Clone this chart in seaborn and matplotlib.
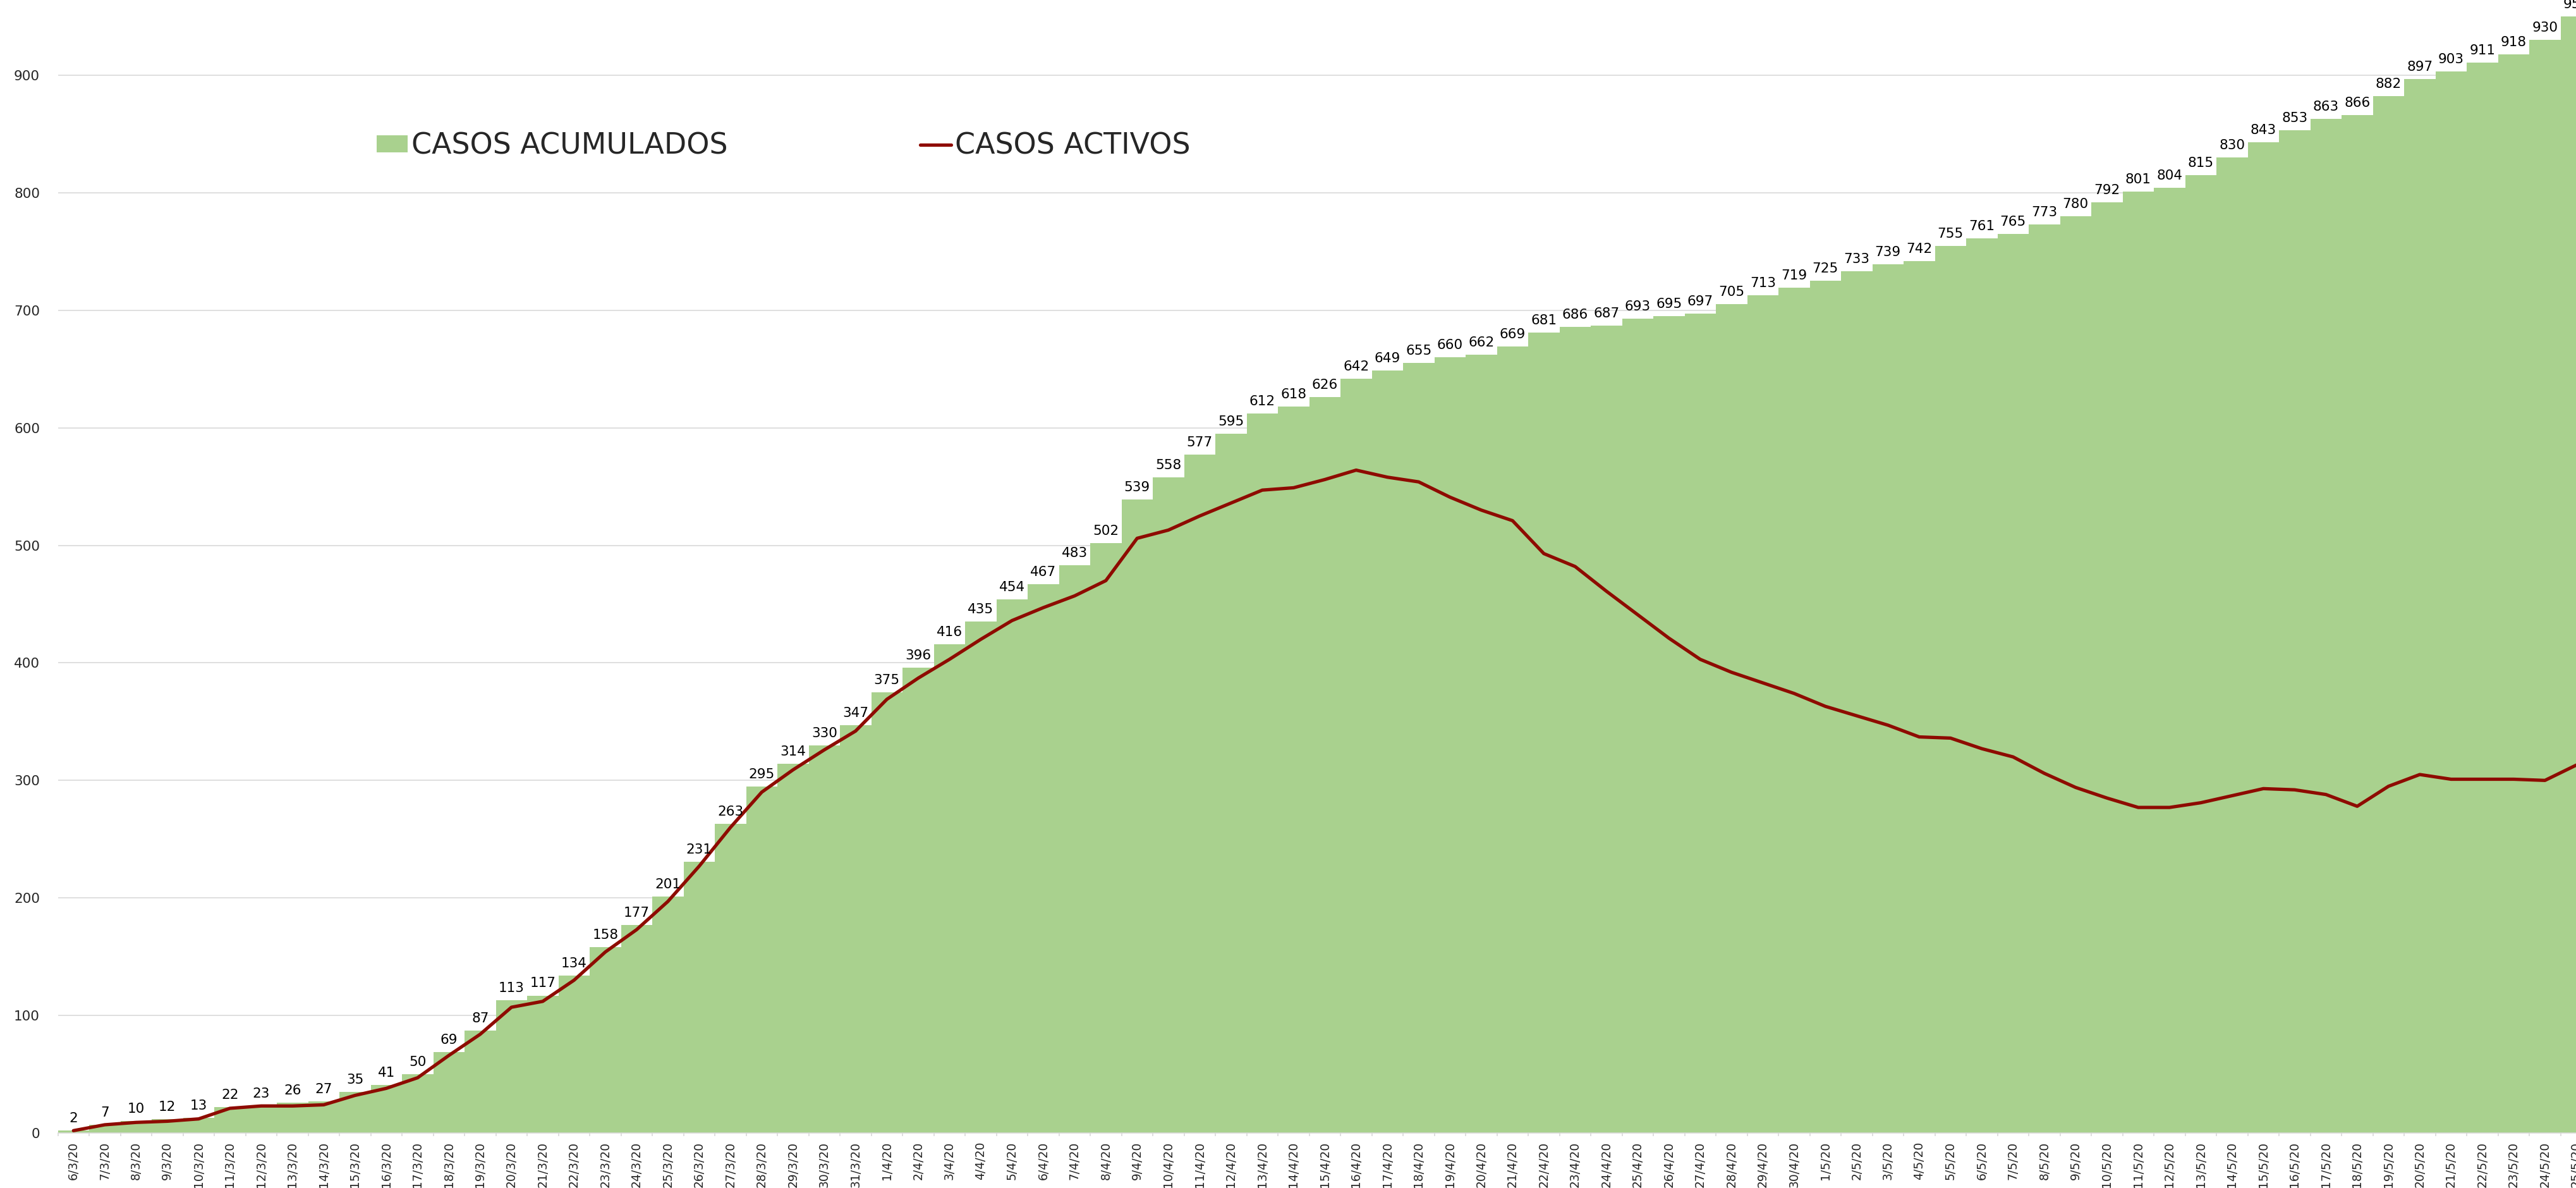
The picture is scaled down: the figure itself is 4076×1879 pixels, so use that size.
import numpy as np
import pandas as pd
import matplotlib
matplotlib.use("Agg")
import matplotlib.pyplot as plt
import seaborn as sns

# ---------------------------------------------------------
# Data
# ---------------------------------------------------------
fechas = ([f"{d}/3/20" for d in range(6, 32)]
          + [f"{d}/4/20" for d in range(1, 31)]
          + [f"{d}/5/20" for d in range(1, 26)])

casos_acumulados = [
    2, 7, 10, 12, 13, 22, 23, 26, 27, 35, 41, 50, 69, 87, 113, 117, 134, 158,
    177, 201, 231, 263, 295, 314, 330, 347,
    375, 396, 416, 435, 454, 467, 483, 502, 539, 558, 577, 595, 612, 618, 626,
    642, 649, 655, 660, 662, 669, 681, 686, 687, 693, 695, 697, 705, 713, 719,
    725, 733, 739, 742, 755, 761, 765, 773, 780, 792, 801, 804, 815, 830, 843,
    853, 863, 866, 882, 897, 903, 911, 918, 930, 950,
]

casos_activos = [
    2, 7, 9, 10, 12, 21, 23, 23, 24, 32, 38, 47, 66, 84, 107, 112, 130, 154,
    173, 197, 227, 260, 290, 309, 326, 342,
    369, 387, 403, 420, 436, 447, 457, 470, 506, 513, 525, 536, 547, 549, 556,
    564, 558, 554, 541, 530, 521, 493, 482, 461, 441, 421, 403, 392, 383, 374,
    363, 355, 347, 337, 336, 327, 320, 306, 294, 285, 277, 277, 281, 287, 293,
    292, 288, 278, 295, 305, 301, 301, 301, 300, 313,
]

y_ticks = list(range(0, 901, 100))

VERDE = "#A9D18E"
ROJO = "#8E0B00"
GRIS = "#D9D9D9"

df = pd.DataFrame({"fecha": fechas,
                   "acumulados": casos_acumulados,
                   "activos": casos_activos})
df["pos"] = np.arange(len(df))

# ---------------------------------------------------------
# Figure
# ---------------------------------------------------------
sns.set_style("white")
plt.rcParams["font.family"] = ["DejaVu Sans"]

fig = plt.figure(figsize=(40.76, 18.79), dpi=100)
# plot area runs past the right/top edges, like the cropped original
ax = fig.add_axes([0.02245, 0.0463, 0.9837, 0.9893])

sns.barplot(data=df, x="fecha", y="acumulados", color=VERDE, saturation=1,
            width=1.0, linewidth=0, ax=ax, label="CASOS ACUMULADOS", zorder=2)
sns.lineplot(data=df, x="pos", y="activos", color=ROJO, linewidth=3.8,
             ax=ax, label="CASOS ACTIVOS", zorder=3)

ax.bar_label(ax.containers[0], padding=6.5, fontsize=15.5, color="black")

ax.set_xlim(-0.5, len(df) - 0.5)
ax.set_ylim(0, 1000)
ax.set_yticks(y_ticks)
ax.yaxis.grid(True, color=GRIS, linewidth=1.2, zorder=0)
ax.set_axisbelow(True)
ax.tick_params(axis="y", length=0, pad=20.5, labelsize=15.5)

ax.set_xticks(df["pos"])
ax.set_xticklabels(df["fecha"], rotation=90, fontsize=13.5)
ax.set_xticks(np.arange(len(df) + 1) - 0.5, minor=True)
ax.tick_params(axis="x", which="major", length=0, pad=10)
ax.tick_params(axis="x", which="minor", length=3.6, width=1.2, color=GRIS,
               bottom=True)
ax.set_xlabel("")
ax.set_ylabel("")

for side in ["left", "top", "right"]:
    ax.spines[side].set_visible(False)
ax.spines["bottom"].set_color(GRIS)
ax.spines["bottom"].set_linewidth(1.2)

handles, labels = ax.get_legend_handles_labels()
orden = [labels.index("CASOS ACUMULADOS"), labels.index("CASOS ACTIVOS")]
ax.legend([handles[i] for i in orden], [labels[i] for i in orden],
          loc="center left", bbox_to_anchor=(0.1462, 0.877),
          bbox_transform=fig.transFigure, ncol=2, frameon=False,
          fontsize=33, handlelength=1.07, handleheight=0.55,
          handletextpad=0.13, columnspacing=6.65, borderpad=0,
          borderaxespad=0)

fig.savefig("out.png", dpi=100)
plt.close(fig)
